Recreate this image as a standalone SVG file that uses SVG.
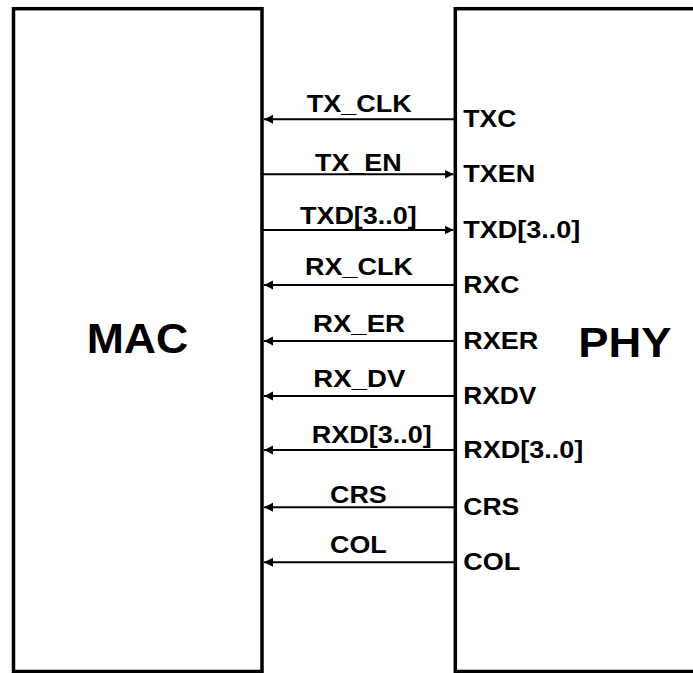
<svg xmlns="http://www.w3.org/2000/svg" width="693" height="673" viewBox="0 0 693 673">
  <style>
    .box { fill: #ffffff; stroke: #000000; stroke-width: 3.5; }
    .big { font-family: "Liberation Sans", Arial, sans-serif; font-weight: bold; font-size: 42px; fill: #000000; }
    .lbl { font-family: "Liberation Sans", Arial, sans-serif; font-weight: bold; font-size: 24px; fill: #000000; }
    .wire { stroke: #000000; stroke-width: 2; fill: none; marker-end: url(#arrow); }
  </style>
  <defs>
    <marker id="arrow" markerUnits="userSpaceOnUse" markerWidth="10" markerHeight="10" refX="9" refY="5" orient="auto">
      <path d="M0,0.5 L9,5 L0,9.5 Z" fill="#000000"/>
    </marker>
  </defs>
  <rect width="693" height="673" fill="#ffffff"/>

  <g id="mac">
    <rect class="box" x="13.5" y="8.7" width="248.5" height="662.8"/>
    <text class="big" x="86.7" y="353.3" textLength="101.6" lengthAdjust="spacingAndGlyphs">MAC</text>
  </g>

  <g id="phy">
    <rect class="box" x="455.3" y="8.7" width="260" height="662.8"/>
    <text class="big" x="578.3" y="356.7" textLength="93.3" lengthAdjust="spacingAndGlyphs">PHY</text>
    <text class="lbl" x="463.3" y="127.3" textLength="53" lengthAdjust="spacingAndGlyphs">TXC</text>
    <text class="lbl" x="463.3" y="182.3" textLength="72" lengthAdjust="spacingAndGlyphs">TXEN</text>
    <text class="lbl" x="463.3" y="238" textLength="117" lengthAdjust="spacingAndGlyphs">TXD[3..0]</text>
    <text class="lbl" x="463.3" y="293.3" textLength="56" lengthAdjust="spacingAndGlyphs">RXC</text>
    <text class="lbl" x="463.3" y="349.3" textLength="75" lengthAdjust="spacingAndGlyphs">RXER</text>
    <text class="lbl" x="463.3" y="404.3" textLength="73" lengthAdjust="spacingAndGlyphs">RXDV</text>
    <text class="lbl" x="463.3" y="458.3" textLength="120" lengthAdjust="spacingAndGlyphs">RXD[3..0]</text>
    <text class="lbl" x="463.3" y="515" textLength="56" lengthAdjust="spacingAndGlyphs">CRS</text>
    <text class="lbl" x="463.3" y="570" textLength="57" lengthAdjust="spacingAndGlyphs">COL</text>
  </g>

  <g id="connectors">
    <line class="wire" x1="455" y1="119.3" x2="264" y2="119.3"/>
    <line class="wire" x1="262" y1="174.3" x2="453.5" y2="174.3"/>
    <line class="wire" x1="262" y1="230" x2="453.5" y2="230"/>
    <line class="wire" x1="455" y1="285" x2="264" y2="285"/>
    <line class="wire" x1="455" y1="341" x2="264" y2="341"/>
    <line class="wire" x1="455" y1="396" x2="264" y2="396"/>
    <line class="wire" x1="455" y1="450" x2="264" y2="450"/>
    <line class="wire" x1="455" y1="507.3" x2="264" y2="507.3"/>
    <line class="wire" x1="455" y1="562.3" x2="264" y2="562.3"/>
  </g>

  <g id="connector-labels">
    <text class="lbl" x="306.7" y="111.7" textLength="105" lengthAdjust="spacingAndGlyphs">TX_CLK</text>
    <text class="lbl" x="315" y="170.7" textLength="86.7" lengthAdjust="spacingAndGlyphs">TX_EN</text>
    <text class="lbl" x="300" y="224" textLength="116.7" lengthAdjust="spacingAndGlyphs">TXD[3..0]</text>
    <text class="lbl" x="305" y="275" textLength="108" lengthAdjust="spacingAndGlyphs">RX_CLK</text>
    <text class="lbl" x="313" y="331.7" textLength="92" lengthAdjust="spacingAndGlyphs">RX_ER</text>
    <text class="lbl" x="313.3" y="387.3" textLength="92" lengthAdjust="spacingAndGlyphs">RX_DV</text>
    <text class="lbl" x="311.7" y="443.3" textLength="120" lengthAdjust="spacingAndGlyphs">RXD[3..0]</text>
    <text class="lbl" x="330" y="503.3" textLength="56.7" lengthAdjust="spacingAndGlyphs">CRS</text>
    <text class="lbl" x="330" y="553.3" textLength="56.7" lengthAdjust="spacingAndGlyphs">COL</text>
  </g>
</svg>
